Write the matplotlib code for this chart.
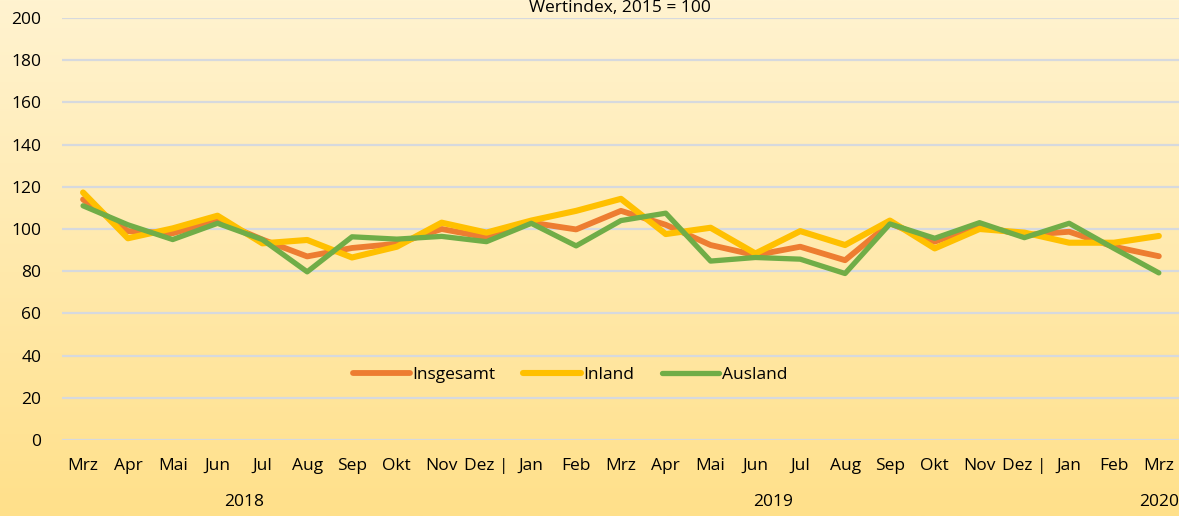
import matplotlib.pyplot as plt
import matplotlib.transforms as mtransforms
import numpy as np

plt.rcParams['font.family'] = ['Open Sans', 'DejaVu Sans']

# Monate Mrz 2018 bis Mrz 2020
monate = ['Mrz', 'Apr', 'Mai', 'Jun', 'Jul', 'Aug', 'Sep', 'Okt', 'Nov', 'Dez |',
          'Jan', 'Feb', 'Mrz', 'Apr', 'Mai', 'Jun', 'Jul', 'Aug', 'Sep', 'Okt',
          'Nov', 'Dez |', 'Jan', 'Feb', 'Mrz']

insgesamt = [114, 99, 98, 104, 95, 87, 91, 93, 100, 96,
             103, 99.8, 108.6, 102, 92.4, 87.6, 91.6, 85.2, 102.7, 94,
             101.4, 97.1, 98.7, 91.6, 87.1]
inland = [117.3, 95.6, 100.3, 106.3, 93.2, 94.8, 86.5, 91.6, 103, 98.3,
          104, 108.6, 114.3, 97.6, 100.6, 88.4, 99, 92.4, 104, 90.8,
          100, 98.3, 93.5, 93.5, 96.7]
ausland = [111, 102, 95, 102.7, 95, 79.7, 96.3, 95.2, 96.5, 94,
           102.7, 92, 104, 107.5, 84.8, 86.5, 85.7, 78.9, 102.4, 95.6,
           103, 95.9, 102.7, 90.8, 79.2]

jahre = ['2018', '2019', '2020']
jahr_pos = [3.6, 15.4, 24.0]

x = np.arange(len(monate))
fs = 12.5

fig = plt.figure(figsize=(11.79, 5.16), dpi=100)

# Hintergrund mit Farbverlauf
bg = fig.add_axes([0, 0, 1, 1], zorder=0)
grad = np.linspace(0, 1, 256).reshape(-1, 1)
top = np.array([255, 243, 208]) / 255
bottom = np.array([255, 224, 138]) / 255
img = top * (1 - grad[..., None]) + bottom * grad[..., None]
bg.imshow(img, aspect='auto', extent=[0, 1, 0, 1])
bg.axis('off')

ax = fig.add_axes([62 / 1179, 1 - 440 / 516, 1117 / 1179, 422 / 516], zorder=1)
ax.patch.set_alpha(0)

ax.plot(x, inland, color='#FFC000', lw=4.4, solid_capstyle='round', label='Inland', zorder=3)
ax.plot(x, insgesamt, color='#ED7D31', lw=4.2, solid_capstyle='round', label='Insgesamt', zorder=2)
ax.plot(x, ausland, color='#70AD47', lw=3.8, solid_capstyle='round', label='Ausland', zorder=4)

ax.set_ylim(0, 200)
ax.set_xlim(-0.47, 24.45)
ax.set_yticks(np.arange(0, 201, 20))
ax.set_xticks(x)
ax.set_xticklabels(monate, fontsize=fs, color='#000000')
ax.tick_params(axis='y', labelsize=fs, colors='#000000', length=0, pad=15)
ax.tick_params(axis='x', length=0, pad=13)
ax.grid(axis='y', color='#D6D9DE', lw=1.6)
ax.set_axisbelow(True)
for s in ax.spines.values():
    s.set_visible(False)

trans = mtransforms.blended_transform_factory(ax.transData, fig.transFigure)
for j, p in zip(jahre, jahr_pos):
    ax.text(p, 1 - 502 / 516, j, transform=trans, ha='center', va='center',
            fontsize=fs, color='#000000')

fig.text(620 / 1179, 1 - 8 / 516, 'Wertindex, 2015 = 100', ha='center', va='center',
         fontsize=fs, color='#000000')

h, l = ax.get_legend_handles_labels()
order = [1, 0, 2]
leg = ax.legend([h[i] for i in order], [l[i] for i in order], loc='center',
                bbox_to_anchor=(570 / 1179, 1 - 375 / 516), bbox_transform=fig.transFigure,
                ncol=3, frameon=False, fontsize=fs, handlelength=3.3, handletextpad=0.15,
                columnspacing=1.6)

fig.savefig('out.png', dpi=100)
